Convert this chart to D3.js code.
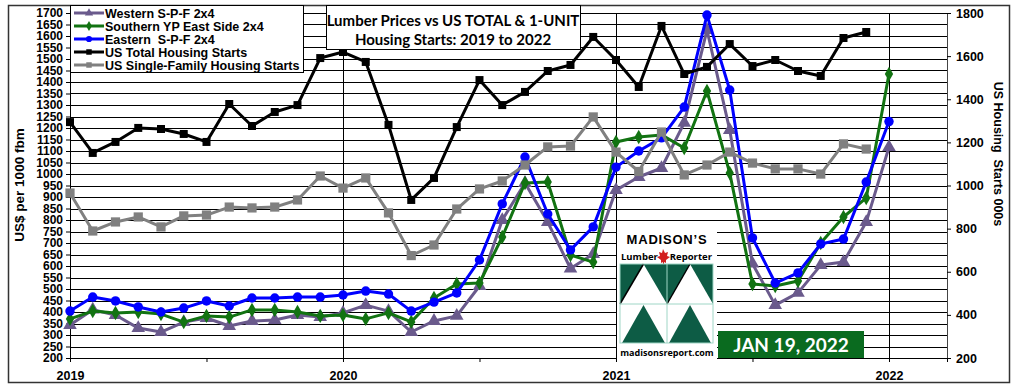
<!DOCTYPE html>
<html><head><meta charset="utf-8">
<script src="https://cdn.jsdelivr.net/npm/d3@7"></script>
<style>body{margin:0;background:#fff;}svg{display:block;}</style>
</head><body>
<svg id="chart" width="1024" height="390"></svg>
<script>
// ---- data ----
const startYear = 2019;
const yearLabels = ["2019", "2020", "2021", "2022"];
const leftTicks = d3.range(200, 1701, 50);
const rightTicks = [200, 400, 600, 800, 1000, 1200, 1400, 1600, 1800];

// Lumber prices, US$ per 1000 fbm, Jan 2019 .. Jan 2022
const westernSPF = [343,410,387,330,313,356,374,339,361,365,387,378,
  396,430,404,313,361,383,513,800,961,791,589,652,
  930,987,1026,1222,1626,1191,610,430,483,604,617,791,1117];
const southernYP = [370,404,396,400,391,356,383,378,409,409,400,383,
  387,370,396,357,461,522,526,726,961,965,648,617,
  1139,1161,1170,1113,1361,1004,522,513,535,700,813,896,1435];
const easternSPF = [404,465,448,422,400,417,448,426,461,461,465,465,
  474,491,478,404,443,483,626,870,1074,826,670,770,
  1030,1100,1157,1291,1691,1365,722,526,570,696,717,965,1228];
// Housing starts, 000s, Jan 2019 .. Dec 2021
const usTotalStarts = [1294,1151,1202,1267,1262,1239,1202,1378,1276,1341,1373,1591,
  1619,1573,1281,933,1035,1271,1489,1373,1434,1531,1559,1689,
  1582,1457,1740,1517,1550,1656,1554,1582,1531,1508,1684,1712];
const usSingleStarts = [965,789,831,854,808,859,863,900,896,900,933,1044,
  988,1035,873,675,724,891,984,1021,1095,1179,1183,1318,
  1155,1065,1248,1049,1095,1155,1104,1077,1077,1053,1193,1169];

const seriesNames = ["Western S-P-F 2x4","Southern YP East Side 2x4","Eastern  S-P-F 2x4","US Total Housing Starts","US Single-Family Housing Starts"];

// ---- layout ----
const svg = d3.select("#chart");
const L = 70, R = 947, T = 13, B = 358;
const x = d3.scaleLinear().domain([0, 38.55]).range([L, R]);
const yL = d3.scaleLinear().domain([200, 1700]).range([B, T]);
const yR = d3.scaleLinear().domain([200, 1800]).range([B, T]);
const font = "'Liberation Sans', Arial, sans-serif";

// outer frame
svg.append("rect").attr("x", 8.5).attr("y", 5.5).attr("width", 1001).attr("height", 377)
  .attr("fill", "#fff").attr("stroke", "#333").attr("stroke-width", 1.5);

// horizontal grid
svg.append("g").selectAll("line").data(leftTicks).join("line")
  .attr("x1", L).attr("x2", R).attr("y1", d => Math.round(yL(d)) + 0.5).attr("y2", d => Math.round(yL(d)) + 0.5)
  .attr("stroke", "#000").attr("stroke-width", 1);
// vertical year grid
svg.append("g").selectAll("line").data([1, 2, 3]).join("line")
  .attr("x1", d => Math.round(x(d * 12)) + 0.5).attr("x2", d => Math.round(x(d * 12)) + 0.5)
  .attr("y1", T).attr("y2", B + 4).attr("stroke", "#000").attr("stroke-width", 1);

// left axis
const gL = svg.append("g").attr("transform", `translate(${L},0)`)
  .call(d3.axisLeft(yL).tickValues(leftTicks).tickSize(4).tickPadding(3).tickFormat(d3.format("d")));
gL.selectAll("text").attr("font-family", font).attr("font-weight", "bold").attr("font-size", 12).attr("fill", "#000");
gL.select(".domain").attr("stroke", "#000");
// right axis
const gR = svg.append("g").attr("transform", `translate(${R},0)`)
  .call(d3.axisRight(yR).tickValues(rightTicks).tickSize(4).tickPadding(5).tickFormat(d3.format("d")));
gR.selectAll("text").attr("font-family", font).attr("font-weight", "bold").attr("font-size", 12.5).attr("fill", "#000");
gR.select(".domain").attr("stroke", "#444");
// bottom axis
const gB = svg.append("g").attr("transform", `translate(0,${B})`)
  .call(d3.axisBottom(x).tickValues([0, 6, 12, 18, 24, 30, 36]).tickSize(4)
    .tickFormat(d => d % 12 === 0 ? yearLabels[d / 12] : ""));
gB.selectAll("text").attr("font-family", font).attr("font-weight", "bold").attr("font-size", 12.5).attr("fill", "#000").attr("dy", "1.2em");
gB.select(".domain").attr("stroke", "#000");

// axis titles
svg.append("text").attr("transform", "translate(24,185) rotate(-90)").attr("text-anchor", "middle")
  .attr("font-family", font).attr("font-weight", "bold").attr("font-size", 13.5).text("US$ per 1000 fbm");
svg.append("text").attr("transform", "translate(994,154) rotate(90)").attr("text-anchor", "middle")
  .attr("font-family", font).attr("font-weight", "bold").attr("font-size", 12.5).attr("xml:space", "preserve").text("US Housing  Starts 000s");

// series
const series = [
  { name: seriesNames[0], data: westernSPF, y: yL, color: "#6a5a8c", shape: "tri" },
  { name: seriesNames[1], data: southernYP, y: yL, color: "#127312", shape: "dia" },
  { name: seriesNames[2], data: easternSPF, y: yL, color: "#0000ff", shape: "circ" },
  { name: seriesNames[3], data: usTotalStarts, y: yR, color: "#000000", shape: "sq" },
  { name: seriesNames[4], data: usSingleStarts, y: yR, color: "#808080", shape: "sq2" }
];
const symFor = s => ({
  tri: d3.symbol(d3.symbolTriangle, 80),
  dia: d3.symbol(d3.symbolDiamond, 60),
  circ: d3.symbol(d3.symbolCircle, 70),
  sq: d3.symbol(d3.symbolSquare, 64),
  sq2: d3.symbol(d3.symbolSquare, 85)
}[s]);

series.forEach(s => {
  const g = svg.append("g");
  const line = d3.line().x((d, i) => x(i)).y(d => s.y(d));
  g.append("path").attr("d", line(s.data)).attr("fill", "none").attr("stroke", s.color)
    .attr("stroke-width", 3).attr("stroke-linejoin", "round");
  g.selectAll("path.m").data(s.data).join("path").attr("class", "m")
    .attr("transform", (d, i) => `translate(${x(i)},${s.y(d)})`)
    .attr("d", symFor(s.shape)()).attr("fill", s.color);
});

// legend
const lg = svg.append("g");
lg.append("rect").attr("x", 70.5).attr("y", 5.5).attr("width", 233).attr("height", 67)
  .attr("fill", "#fff").attr("stroke", "#000");
const legY = [13, 26, 39, 52, 65];
series.forEach((s, i) => {
  lg.append("line").attr("x1", 74).attr("x2", 104).attr("y1", legY[i]).attr("y2", legY[i])
    .attr("stroke", s.color).attr("stroke-width", 3);
  lg.append("path").attr("transform", `translate(89,${legY[i]})`).attr("d", d3.symbol(
    [d3.symbolTriangle, d3.symbolDiamond, d3.symbolCircle, d3.symbolSquare, d3.symbolSquare][i], 30)()).attr("fill", s.color);
  lg.append("text").attr("x", 105).attr("y", legY[i]).attr("dy", "0.36em")
    .attr("font-family", font).attr("font-weight", "bold").attr("font-size", 12.5).attr("xml:space", "preserve").text(s.name);
});

// title box
const tg = svg.append("g");
tg.append("rect").attr("x", 326.5).attr("y", 5.5).attr("width", 254).attr("height", 44).attr("fill", "#fff").attr("stroke", "#000");
tg.append("text").attr("x", 453).attr("y", 21).attr("dy", "0.35em").attr("text-anchor", "middle")
  .attr("font-family", "Lato, 'Open Sans', sans-serif").attr("font-weight", "bold").attr("font-size", 15).text("Lumber Prices vs US TOTAL & 1-UNIT");
tg.append("text").attr("x", 453).attr("y", 40).attr("dy", "0.35em").attr("text-anchor", "middle")
  .attr("font-family", "Lato, 'Open Sans', sans-serif").attr("font-weight", "bold").attr("font-size", 15).text("Housing Starts: 2019 to 2022");

// logo
const lo = svg.append("g");
lo.append("rect").attr("x", 617).attr("y", 229).attr("width", 100).attr("height", 131).attr("fill", "#fff");
lo.append("text").attr("x", 667).attr("y", 239).attr("dy", "0.35em").attr("text-anchor", "middle")
  .attr("font-family", "'Liberation Sans', sans-serif").attr("font-weight", "bold").attr("font-size", 13)
  .attr("letter-spacing", 0.8).text("MADISON’S");
lo.append("path").attr("d", "M663,249 l2,4 l3,-1 l-1,4 l3,1 l-4,3 l0,3 l-2,-1 l0,3 l-1,0 l0,-3 l-2,1 l0,-3 l-4,-3 l3,-1 l-1,-4 l3,1 z")
  .attr("fill", "#d21f1f");
lo.append("text").attr("x", 621).attr("y", 257).attr("dy", "0.35em")
  .attr("font-family", "'Open Sans', sans-serif").attr("font-weight", "bold").attr("font-size", 9.5).text("Lumber");
lo.append("text").attr("x", 712).attr("y", 257).attr("dy", "0.35em").attr("text-anchor", "end")
  .attr("font-family", "'Open Sans', sans-serif").attr("font-weight", "bold").attr("font-size", 9.5).text("Reporter");
const gx0 = 620, gx1 = 667, gx2 = 713, gy0 = 264, gy1 = 304, gy2 = 343;
const dk = "#0d5c45";
// top row: green cells with white up-triangles
[[gx0, gx1], [gx1, gx2]].forEach(([a, b]) => {
  lo.append("rect").attr("x", a).attr("y", gy0).attr("width", b - a).attr("height", gy1 - gy0).attr("fill", dk);
  lo.append("path").attr("d", `M${a},${gy1} L${(a + b) / 2},${gy0} L${b},${gy1} Z`).attr("fill", "#fff");
  lo.append("path").attr("d", `M${a},${gy1} L${(a + b) / 2},${gy0}`).attr("stroke", "#000").attr("stroke-width", 1.5);
});
// bottom row: white cells with green up-triangles
[[gx0, gx1], [gx1, gx2]].forEach(([a, b]) => {
  lo.append("path").attr("d", `M${a + 2},${gy2} L${(a + b) / 2},${gy1 + 1} L${b - 2},${gy2} Z`).attr("fill", dk);
});
lo.append("rect").attr("x", gx0).attr("y", gy0).attr("width", gx2 - gx0).attr("height", gy2 - gy0)
  .attr("fill", "none").attr("stroke", "#9fd6c6").attr("stroke-width", 1);
lo.append("line").attr("x1", gx0).attr("x2", gx2).attr("y1", gy1).attr("y2", gy1).attr("stroke", "#9fd6c6");
lo.append("line").attr("x1", gx1).attr("x2", gx1).attr("y1", gy0).attr("y2", gy2).attr("stroke", "#9fd6c6");
lo.append("text").attr("x", 667).attr("y", 353).attr("dy", "0.35em").attr("text-anchor", "middle")
  .attr("font-family", "'Open Sans', sans-serif").attr("font-weight", "bold").attr("font-size", 9).text("madisonsreport.com");

// date box
svg.append("rect").attr("x", 718).attr("y", 331).attr("width", 146).attr("height", 27).attr("fill", "#0a6b1f");
svg.append("text").attr("x", 791).attr("y", 345).attr("dy", "0.36em").attr("text-anchor", "middle")
  .attr("font-family", "Lato, 'Open Sans', sans-serif").attr("font-weight", "bold").attr("font-size", 19).attr("fill", "#fff").text("JAN 19, 2022");
</script>
</body></html>
